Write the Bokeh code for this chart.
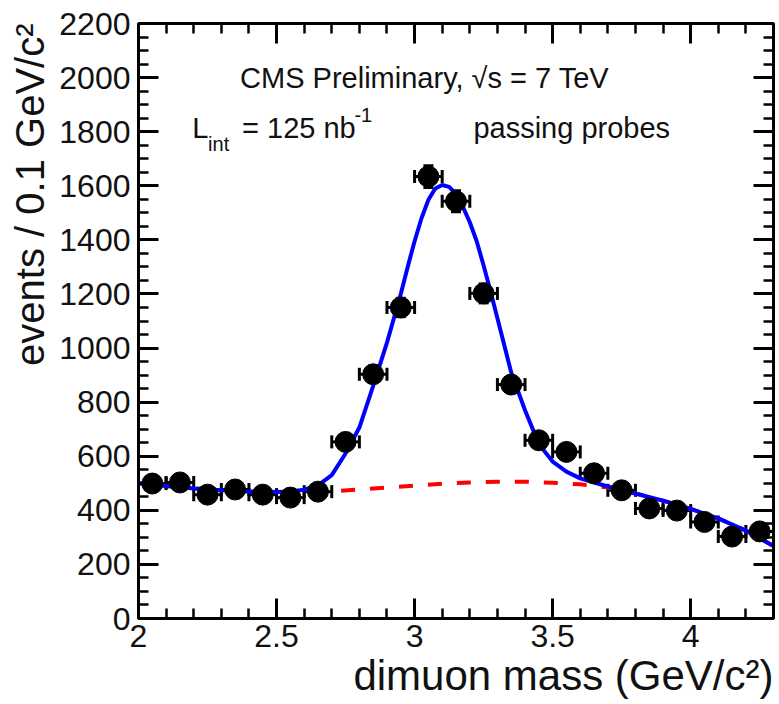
from bokeh.plotting import figure
from bokeh.models import (ColumnDataSource, FixedTicker, LinearAxis, Range1d,
                          Whisker, TeeHead, Label, Title, CustomJSTickFormatter)
from bokeh.embed import file_html
from bokeh.resources import INLINE

# ---- data ----
mass = [2.05, 2.15, 2.25, 2.35, 2.45, 2.55, 2.65, 2.75, 2.85, 2.95, 3.05, 3.15,
        3.25, 3.35, 3.45, 3.55, 3.65, 3.75, 3.85, 3.95, 4.05, 4.15, 4.25]
counts = [499, 503, 458, 477, 458, 447, 469, 653, 903, 1150, 1634, 1543,
          1202, 865, 659, 616, 537, 474, 407, 399, 357, 303, 322]
count_err = [22, 22, 21, 22, 21, 21, 22, 26, 30, 34, 40, 39,
             35, 29, 26, 25, 23, 22, 20, 20, 19, 17, 18]
bin_width = 0.1

fit_x = [2.0, 2.1, 2.2, 2.3, 2.4, 2.5, 2.55, 2.6, 2.65, 2.7, 2.75, 2.8, 2.85,
         2.9, 2.925, 2.95, 2.975, 3.0, 3.025, 3.05, 3.075, 3.1, 3.125, 3.15,
         3.175, 3.2, 3.225, 3.25, 3.275, 3.3, 3.35, 3.4, 3.45, 3.5, 3.55, 3.6,
         3.65, 3.7, 3.8, 3.9, 4.0, 4.1, 4.2, 4.3]
fit_y = [500, 490, 481, 474, 470, 468, 470, 476, 492, 530, 610, 706, 860,
         1020, 1110, 1200, 1300, 1395, 1480, 1548, 1590, 1603, 1596, 1570,
         1522, 1465, 1395, 1305, 1210, 1110, 910, 770, 645, 580, 543, 518,
         503, 488, 462, 436, 405, 370, 325, 268]

bkg_x = [2.0, 2.1, 2.2, 2.3, 2.4, 2.5, 2.6, 2.7, 2.8, 2.9, 3.0, 3.1, 3.2, 3.3,
         3.4, 3.5, 3.6, 3.7, 3.8, 3.9, 4.0, 4.1, 4.2, 4.3]
bkg_y = [500, 490, 481, 474, 469, 466, 466, 470, 477, 484, 491, 498, 503, 506,
         506, 502, 496, 484, 462, 436, 405, 370, 325, 268]

x_major = [2, 2.5, 3, 3.5, 4]
x_minor = [2.1, 2.2, 2.3, 2.4, 2.6, 2.7, 2.8, 2.9, 3.1, 3.2, 3.3, 3.4, 3.6,
           3.7, 3.8, 3.9, 4.1, 4.2, 4.3]
y_major = [0, 200, 400, 600, 800, 1000, 1200, 1400, 1600, 1800, 2000, 2200]
y_minor = [v for v in range(50, 2200, 50) if v % 200 != 0]

FONT = "Liberation Sans"
TXT = "#111111"

src = ColumnDataSource(dict(
    x=mass, y=counts,
    xlo=[m - bin_width / 2 for m in mass], xhi=[m + bin_width / 2 for m in mass],
    ylo=[c - e for c, e in zip(counts, count_err)],
    yhi=[c + e for c, e in zip(counts, count_err)],
))

p = figure(width=779, height=704, output_backend="svg", toolbar_location=None,
           x_range=Range1d(2, 4.3), y_range=Range1d(0, 2200),
           min_border_left=136, min_border_right=6, min_border_top=23,
           min_border_bottom=86)
p.grid.visible = False
p.outline_line_color = "black"
p.outline_line_width = 3
p.background_fill_color = "white"
p.border_fill_color = "white"

bottom = p.below[0]
left = p.left[0]
bottom.ticker = FixedTicker(ticks=x_major, minor_ticks=x_minor)
left.ticker = FixedTicker(ticks=y_major, minor_ticks=y_minor)
bottom.major_label_overrides = {2: "2", 2.5: "2.5", 3: "3", 3.5: "3.5", 4: "4"}

top = LinearAxis(ticker=FixedTicker(ticks=x_major, minor_ticks=x_minor),
                 formatter=CustomJSTickFormatter(code="return ''"),
                 major_label_standoff=0)
right = LinearAxis(ticker=FixedTicker(ticks=y_major, minor_ticks=y_minor),
                   formatter=CustomJSTickFormatter(code="return ''"),
                   major_label_standoff=0)
p.add_layout(top, "above")
p.add_layout(right, "right")

for ax in (bottom, left, top, right):
    ax.axis_line_width = 3
    ax.axis_line_color = "black"
    ax.major_tick_in = 20
    ax.major_tick_out = 0
    ax.minor_tick_in = 10
    ax.minor_tick_out = 0
    ax.major_tick_line_width = 3
    ax.minor_tick_line_width = 2.5
    ax.major_tick_line_color = "black"
    ax.minor_tick_line_color = "black"
    ax.major_label_text_font = FONT
    ax.major_label_text_color = TXT

bottom.major_label_text_font_size = "32px"
bottom.major_label_standoff = 6
left.major_label_text_font_size = "32px"
left.major_label_standoff = 8

p.add_layout(Title(text="dimuon mass (GeV/c²)", align="right",
                   text_font_size="42px", text_font=FONT, standoff=0,
                   text_font_style="normal", text_color=TXT), "below")
p.add_layout(Title(text="events / 0.1 GeV/c²", align="right",
                   text_font_size="40px", text_font=FONT,
                   text_font_style="normal", text_color=TXT), "left")

# curves
p.line(bkg_x, bkg_y, line_color="#ff0000", line_width=4, line_dash="14 15")
p.line(fit_x, fit_y, line_color="#0000ff", line_width=4)

# error bars
p.add_layout(Whisker(source=src, base="y", lower="xlo", upper="xhi",
                     dimension="width", line_width=3, line_color="black",
                     lower_head=TeeHead(size=13, line_width=3, line_color="black"),
                     upper_head=TeeHead(size=13, line_width=3, line_color="black")))
p.add_layout(Whisker(source=src, base="x", lower="ylo", upper="yhi",
                     dimension="height", line_width=3, line_color="black",
                     lower_head=TeeHead(size=10, line_width=3, line_color="black"),
                     upper_head=TeeHead(size=10, line_width=3, line_color="black")))
p.scatter("x", "y", source=src, size=21, color="black")

# annotations
def lab(x, y, text, size):
    p.add_layout(Label(x=x, y=y, text=text, text_font=FONT,
                       text_font_size=size, text_baseline="alphabetic",
                       text_color=TXT))

lab(2.368, 2000, "CMS Preliminary, √s = 7 TeV", "29px")
lab(2.195, 1815, "L", "29px")
lab(2.252, 1756, "int", "20px")
lab(2.375, 1815, "= 125 nb", "29px")
lab(2.782, 1862, "-1", "20px")
lab(3.213, 1815, "passing probes", "29px")

open("out.html", "w").write(file_html(p, INLINE))
